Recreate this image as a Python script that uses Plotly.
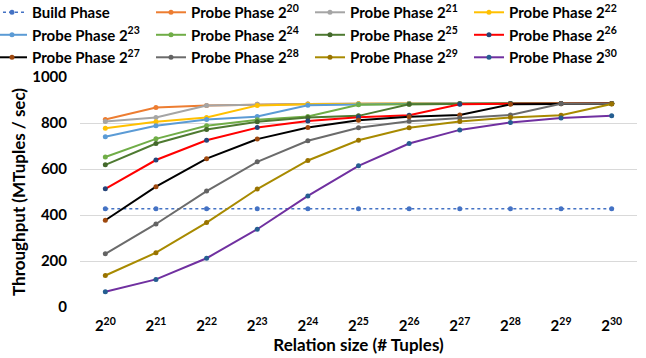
import plotly.graph_objects as go

categories = ["2<sup>%d</sup>" % e for e in range(20, 31)]

build_phase = [427, 427, 427, 427, 427, 427, 427, 427, 427, 427, 427]
probe_20 = [815, 867, 876, 881, 883, 884, 885, 885, 885, 885, 885]
probe_21 = [806, 824, 876, 881, 883, 884, 885, 885, 885, 885, 885]
probe_22 = [777, 805, 824, 876, 881, 884, 885, 885, 885, 885, 885]
probe_23 = [740, 788, 815, 828, 877, 881, 884, 885, 885, 885, 885]
probe_24 = [652, 731, 788, 814, 828, 879, 882, 884, 885, 885, 885]
probe_25 = [618, 711, 772, 805, 824, 831, 881, 884, 885, 885, 885]
probe_26 = [514, 639, 725, 780, 809, 825, 834, 881, 884, 885, 885]
probe_27 = [377, 523, 645, 730, 780, 812, 827, 835, 881, 884, 884]
probe_28 = [231, 361, 504, 631, 723, 779, 808, 822, 835, 884, 884]
probe_29 = [137, 236, 367, 513, 637, 725, 779, 806, 824, 834, 883]
probe_30 = [66, 120, 212, 338, 483, 614, 711, 770, 802, 822, 832]

series_names = ["Build Phase"] + ["Probe Phase 2<sup>%d</sup>" % e for e in range(20, 31)]
series_values = [build_phase, probe_20, probe_21, probe_22, probe_23, probe_24,
                 probe_25, probe_26, probe_27, probe_28, probe_29, probe_30]
line_colors = ["#4472C4", "#ED7D31", "#A5A5A5", "#FFC000", "#5B9BD5", "#70AD47",
               "#4E7A31", "#FF0000", "#000000", "#6B6B6B", "#A88A00", "#7030A0"]
marker_colors = ["#4472C4", "#ED7D31", "#A5A5A5", "#FFC000", "#5B9BD5", "#70AD47",
                 "#43682B", "#264478", "#9E480E", "#636363", "#997300", "#255E91"]

FONT = "Lato"

fig = go.Figure()
for i, (name, vals) in enumerate(zip(series_names, series_values)):
    fig.add_trace(go.Scatter(
        x=categories, y=vals, name=name, mode="lines+markers",
        line=dict(color=line_colors[i], width=2 if i else 1.6,
                  dash="dot" if i == 0 else "solid"),
        marker=dict(color=marker_colors[i], size=5),
    ))

fig.update_layout(
    width=646, height=358,
    margin=dict(l=80, r=9, t=77, b=51, autoexpand=False),
    paper_bgcolor="white", plot_bgcolor="white",
    font=dict(family=FONT, color="#000000"),
    showlegend=True,
    legend=dict(
        orientation="h", xref="paper", yref="paper",
        x=-0.158, y=1.352, xanchor="left", yanchor="top",
        entrywidth=114, entrywidthmode="pixels",
        itemwidth=30,
        font=dict(family=FONT, size=15, color="#000000", weight="bold"),
        bgcolor="rgba(0,0,0,0)", traceorder="normal",
    ),
    xaxis=dict(
        type="category", categoryorder="array", categoryarray=categories,
        range=[-0.5, 10.5], showgrid=False, zeroline=False, showline=False,
        ticks="", tickfont=dict(family=FONT, size=15, weight="bold"),
        ticklabelstandoff=8,
        title=dict(text="Relation size (# Tuples)",
                   font=dict(family=FONT, size=17, weight="bold"), standoff=4),
    ),
    yaxis=dict(
        range=[0, 1000], dtick=200, showgrid=True, gridcolor="#D9D9D9",
        gridwidth=1, zeroline=False, showline=False, ticks="",
        tickfont=dict(family=FONT, size=15, weight="bold"),
        ticklabelstandoff=12,
        title=dict(text="Throughput (MTuples / sec)",
                   font=dict(family=FONT, size=17, weight="bold"), standoff=2),
    ),
)

fig.write_html("out.html")
